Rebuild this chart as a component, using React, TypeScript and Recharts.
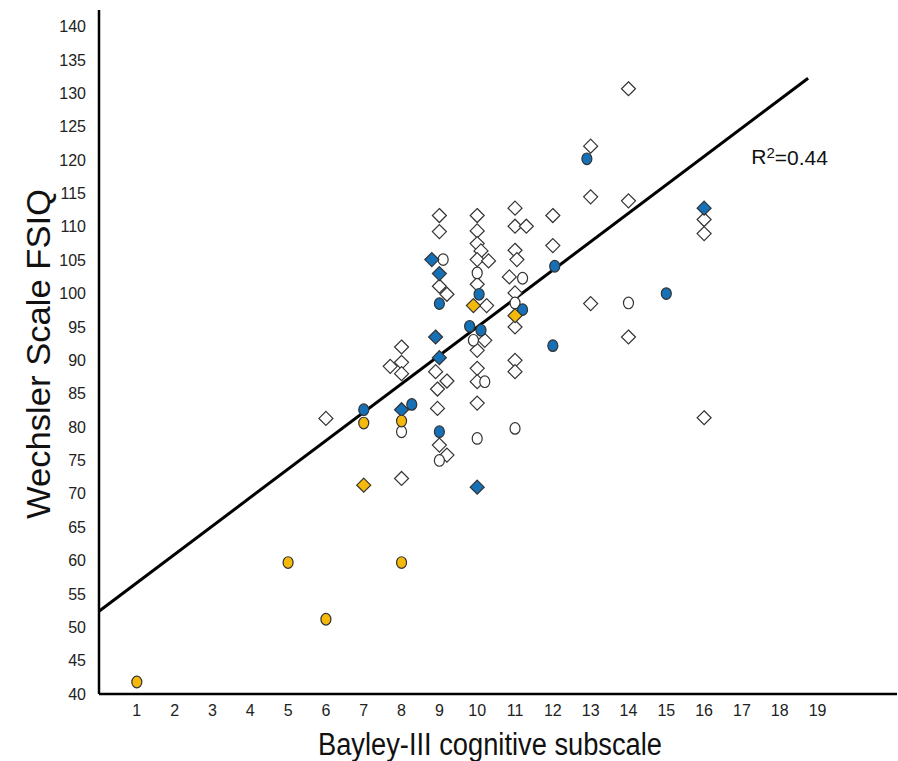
import { ScatterChart, Scatter, XAxis, YAxis, ReferenceLine, ReferenceDot } from 'recharts';

// Bayley-III cognitive (x) vs Wechsler FSIQ (y)
const whiteDiamonds = [
  [6, 81.3], [7.7, 89.1], [8, 92.0], [8, 89.7], [8, 88.0], [8, 72.3],
  [8.9, 88.3], [9.2, 86.9], [8.95, 85.7], [8.95, 82.8], [9, 77.3], [9.2, 75.8],
  [9, 111.7], [9, 109.3], [9, 101.1], [9.2, 99.9],
  [10, 111.7], [10, 109.4], [10, 107.5], [10.1, 106.4], [10, 105.1], [10.3, 104.9],
  [10, 101.4], [10.25, 98.2], [10.2, 93.0], [10, 91.5], [10, 88.8], [10, 86.8], [10, 83.6],
  [11, 112.8], [11, 110.1], [11.3, 110.1], [11, 106.5], [11.05, 105.1], [10.85, 102.5],
  [11, 100.1], [11, 95.0], [11, 90.0], [11, 88.3],
  [12, 111.7], [12, 107.2], [13, 122.1], [13, 114.5], [13, 98.5],
  [14, 130.7], [14, 113.9], [14, 93.5], [16, 111.1], [16, 109.0], [16, 81.4],
];
const whiteCircles = [
  [8, 79.3], [9, 75.0], [9.1, 105.1], [9.9, 93.0], [10.2, 86.8], [10, 78.3],
  [11, 79.8], [10, 103.1], [11.2, 102.3], [11, 98.6], [14, 98.6],
];
const blueDiamonds = [
  [8.8, 105.1], [9, 103.0], [8.9, 93.5], [9, 90.4], [8, 82.6], [10, 71.0], [16, 112.8],
];
const blueCircles = [
  [7, 82.6], [8.27, 83.4], [9, 98.5], [9, 79.3], [9.8, 95.1], [10.1, 94.5],
  [10.05, 99.9], [11.2, 97.6], [12, 92.2], [12.05, 104.1], [12.9, 120.2], [15, 100.0],
];
const yellowDiamonds = [[7, 71.3], [9.9, 98.2], [11, 96.7]];
const yellowCircles = [[1, 41.8], [5, 59.7], [6, 51.2], [7, 80.6], [8, 80.9], [8, 59.7]];

const xTicks = [1, 2, 3, 4, 5, 6, 7, 8, 9, 10, 11, 12, 13, 14, 15, 16, 17, 18, 19];
const yTicks = [40, 45, 50, 55, 60, 65, 70, 75, 80, 85, 90, 95, 100, 105, 110, 115, 120, 125, 130, 135, 140];

// regression line
const fitIntercept = 52.4;
const fitSlope = 4.26;
const fitEndX = 18.75;

const BLUE = '#1570b6';
const YELLOW = '#f5b90c';
const EDGE = '#333';
const FONT = "'Liberation Sans', Arial, Helvetica, sans-serif";

const toPts = (arr: number[][]) => arr.map(([x, y]) => ({ x, y }));

const diamond = (fill: string) => (p: any) => {
  const { cx, cy } = p;
  return (
    <path
      d={`M${cx},${cy - 7} L${cx + 7},${cy} L${cx},${cy + 7} L${cx - 7},${cy} Z`}
      fill={fill}
      stroke={EDGE}
      strokeWidth={1.2}
    />
  );
};

const oval = (fill: string) => (p: any) => (
  <ellipse cx={p.cx} cy={p.cy} rx={5} ry={5.8} fill={fill} stroke={EDGE} strokeWidth={1.2} />
);

const xTick = (p: any) => (
  <text x={p.x} y={p.y} dy="0.71em" textAnchor="middle" fontSize={16} fontFamily={FONT} fill="#222">
    {p.payload.value}
  </text>
);

const yTick = (p: any) => (
  <text x={p.x} y={p.y} dy="0.35em" textAnchor="end" fontSize={16} fontFamily={FONT} fill="#222">
    {p.payload.value}
  </text>
);

export default function App() {
  return (
    <div style={{ position: 'absolute', left: 0, top: 0 }}>
      <ScatterChart width={898} height={761} margin={{ top: 10, right: 1, left: 0, bottom: 0 }}>
        <XAxis
          type="number"
          dataKey="x"
          domain={[0, 21.1]}
          ticks={xTicks}
          interval={0}
          axisLine={{ stroke: '#000', strokeWidth: 2.5 }}
          tickLine={false}
          tickSize={0}
          tickMargin={11}
          tick={xTick}
          height={67}
          label={{
            content: ({ viewBox }: any) => (
              <text
                x={viewBox.x + 391}
                y={viewBox.y + 61}
                textAnchor="middle"
                fontSize={31}
                textLength={344}
                lengthAdjust="spacingAndGlyphs"
                fontFamily={FONT}
                fill="#111"
              >
                Bayley-III cognitive subscale
              </text>
            ),
          }}
        />
        <YAxis
          type="number"
          dataKey="y"
          domain={[40, 142.5]}
          ticks={yTicks}
          interval={0}
          width={99}
          axisLine={{ stroke: '#000', strokeWidth: 2.5 }}
          tickLine={false}
          tickSize={0}
          tickMargin={13}
          tick={yTick}
          label={{
            content: ({ viewBox }: any) => {
              const cx = viewBox.x + 38;
              const cy = viewBox.y + viewBox.height / 2 + 2;
              return (
                <text
                  x={cx}
                  y={cy}
                  transform={`rotate(-90, ${cx}, ${cy})`}
                  textAnchor="middle"
                  dominantBaseline="central"
                  fontSize={33}
                  textLength={330}
                  lengthAdjust="spacingAndGlyphs"
                  fontFamily={FONT}
                  fill="#111"
                >
                  Wechsler Scale FSIQ
                </text>
              );
            },
          }}
        />
        <ReferenceLine
          segment={[
            { x: 0, y: fitIntercept },
            { x: fitEndX, y: fitIntercept + fitSlope * fitEndX },
          ]}
          stroke="#000"
          strokeWidth={3}
        />
        <ReferenceDot
          x={17.3}
          y={120.5}
          shape={(p: any) => (
            <text x={p.cx - 2} y={p.cy} dominantBaseline="central" fontSize={21} fontFamily={FONT} fill="#111">
              R<tspan fontSize={15} dy={-5}>2</tspan>
              <tspan dy={5}>=0.44</tspan>
            </text>
          )}
        />
        <Scatter data={toPts(whiteDiamonds)} shape={diamond('#fff')} isAnimationActive={false} />
        <Scatter data={toPts(whiteCircles)} shape={oval('#fff')} isAnimationActive={false} />
        <Scatter data={toPts(blueDiamonds)} shape={diamond(BLUE)} isAnimationActive={false} />
        <Scatter data={toPts(blueCircles)} shape={oval(BLUE)} isAnimationActive={false} />
        <Scatter data={toPts(yellowDiamonds)} shape={diamond(YELLOW)} isAnimationActive={false} />
        <Scatter data={toPts(yellowCircles)} shape={oval(YELLOW)} isAnimationActive={false} />
      </ScatterChart>
    </div>
  );
}
